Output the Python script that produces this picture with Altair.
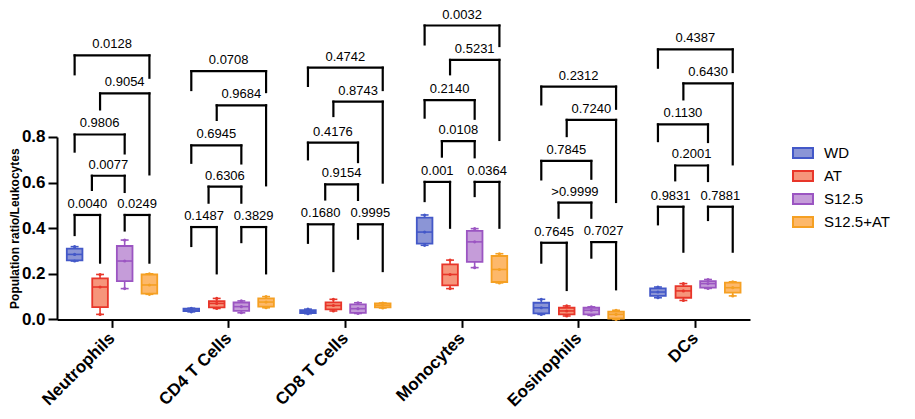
import json
import altair as alt
import pandas as pd

# ---------------- data ----------------
categories = ["Neutrophils", "CD4 T Cells", "CD8 T Cells", "Monocytes", "Eosinophils", "DCs"]
groups = ["WD", "AT", "S12.5", "S12.5+AT"]

# box statistics per group, one value per category
box_min = {
    "WD":       [0.256, 0.033, 0.025, 0.325, 0.022, 0.095],
    "AT":       [0.022, 0.048, 0.037, 0.135, 0.015, 0.083],
    "S12.5":    [0.135, 0.029, 0.026, 0.227, 0.018, 0.136],
    "S12.5+AT": [0.110, 0.051, 0.050, 0.160, 0.000, 0.103],
}
box_q1 = {
    "WD":       [0.259, 0.036, 0.028, 0.332, 0.026, 0.103],
    "AT":       [0.054, 0.053, 0.044, 0.149, 0.022, 0.095],
    "S12.5":    [0.168, 0.037, 0.029, 0.252, 0.022, 0.139],
    "S12.5+AT": [0.113, 0.056, 0.053, 0.164, 0.004, 0.117],
}
box_med = {
    "WD":       [0.285, 0.041, 0.035, 0.383, 0.051, 0.120],
    "AT":       [0.142, 0.070, 0.061, 0.197, 0.037, 0.125],
    "S12.5":    [0.256, 0.056, 0.047, 0.340, 0.040, 0.157],
    "S12.5+AT": [0.151, 0.076, 0.062, 0.219, 0.022, 0.139],
}
box_q3 = {
    "WD":       [0.310, 0.047, 0.040, 0.446, 0.073, 0.136],
    "AT":       [0.180, 0.080, 0.075, 0.241, 0.051, 0.146],
    "S12.5":    [0.322, 0.074, 0.066, 0.388, 0.051, 0.168],
    "S12.5+AT": [0.197, 0.092, 0.070, 0.278, 0.034, 0.161],
}
box_max = {
    "WD":       [0.319, 0.049, 0.045, 0.458, 0.088, 0.142],
    "AT":       [0.197, 0.092, 0.088, 0.260, 0.059, 0.157],
    "S12.5":    [0.348, 0.081, 0.073, 0.398, 0.055, 0.175],
    "S12.5+AT": [0.200, 0.100, 0.072, 0.288, 0.040, 0.165],
}

# comparison brackets (same six comparisons in every category)
bracket_pairs = [("WD", "AT"), ("S12.5", "S12.5+AT"), ("mid", "S12.5"),
                 ("WD", "S12.5"), ("AT", "S12.5+AT"), ("WD", "S12.5+AT")]
p_labels = [
    ["0.0040", "0.0249", "0.0077", "0.9806", "0.9054", "0.0128"],
    ["0.1487", "0.3829", "0.6306", "0.6945", "0.9684", "0.0708"],
    ["0.1680", "0.9995", "0.9154", "0.4176", "0.8743", "0.4742"],
    ["0.001", "0.0364", "0.0108", "0.2140", "0.5231", "0.0032"],
    ["0.7645", "0.7027", ">0.9999", "0.7845", "0.7240", "0.2312"],
    ["0.9831", "0.7881", "0.2001", "0.1130", "0.6430", "0.4387"],
]
bracket_top = [
    [0.458, 0.458, 0.630, 0.811, 0.991, 1.158],
    [0.405, 0.405, 0.582, 0.763, 0.939, 1.089],
    [0.417, 0.417, 0.592, 0.775, 0.955, 1.104],
    [0.603, 0.603, 0.782, 0.962, 1.138, 1.289],
    [0.336, 0.339, 0.512, 0.695, 0.875, 1.021],
    [0.494, 0.494, 0.675, 0.855, 1.035, 1.184],
]
bracket_left_end = [
    [0.370, 0.390, 0.568, 0.736, 0.921, 1.075],
    [0.322, 0.339, 0.512, 0.687, 0.875, 1.006],
    [0.336, 0.354, 0.526, 0.702, 0.892, 1.024],
    [0.519, 0.541, 0.714, 0.885, 1.075, 1.206],
    [0.249, 0.271, 0.446, 0.614, 0.804, 0.943],
    [0.417, 0.436, 0.610, 0.782, 0.965, 1.104],
]
bracket_right_end = [
    [0.249, 0.249, 0.559, 0.728, 0.636, 1.060],
    [0.202, 0.202, 0.512, 0.684, 0.588, 0.997],
    [0.212, 0.212, 0.524, 0.690, 0.600, 1.006],
    [0.402, 0.402, 0.711, 0.880, 0.787, 1.199],
    [0.129, 0.132, 0.446, 0.617, 0.515, 0.924],
    [0.297, 0.297, 0.607, 0.778, 0.680, 1.085],
]

# ---------------- layout / style ----------------
slot_offset = {"WD": -0.318, "AT": -0.100, "S12.5": 0.111, "S12.5+AT": 0.323, "mid": -0.170}
box_half = 0.067
cap_half = 0.034
fill_colors = ["#8B95D6", "#F6957B", "#C59CD9", "#FDB86A"]
stroke_colors = ["#4358C8", "#E8362A", "#9B55C2", "#F5A023"]
FONT = "Liberation Sans"

# ---------------- tables ----------------
box_rows, seg_rows, dot_rows = [], [], []
for ci, cat in enumerate(categories):
    for g in groups:
        pos = ci + slot_offset[g]
        mn, q1, md, q3, mx = (box_min[g][ci], box_q1[g][ci], box_med[g][ci],
                              box_q3[g][ci], box_max[g][ci])
        box_rows.append(dict(group=g, lo=pos - box_half, hi=pos + box_half, q1=q1, q3=q3))
        for (xa, ya, xb, yb) in [(pos, mn, pos, q1), (pos, q3, pos, mx),
                                 (pos - cap_half, mn, pos + cap_half, mn),
                                 (pos - cap_half, mx, pos + cap_half, mx),
                                 (pos - box_half, md, pos + box_half, md)]:
            seg_rows.append(dict(group=g, xa=xa, ya=ya, xb=xb, yb=yb))
        for v in (mn, md, mx):
            dot_rows.append(dict(group=g, x=pos, y=v))

br_rows, lab_rows = [], []
for ci, cat in enumerate(categories):
    for k, (a, b) in enumerate(bracket_pairs):
        xl, xr = ci + slot_offset[a], ci + slot_offset[b]
        h = bracket_top[ci][k]
        br_rows.append(dict(xa=xl, ya=h, xb=xr, yb=h))
        br_rows.append(dict(xa=xl, ya=h, xb=xl, yb=bracket_left_end[ci][k]))
        br_rows.append(dict(xa=xr, ya=h, xb=xr, yb=bracket_right_end[ci][k]))
        lab_rows.append(dict(x=(xl + xr) / 2, y=h, label=p_labels[ci][k]))

box_df = pd.DataFrame(box_rows)
seg_df = pd.DataFrame(seg_rows)
dot_df = pd.DataFrame(dot_rows)
br_df = pd.DataFrame(br_rows)
lab_df = pd.DataFrame(lab_rows)

# ---------------- scales / axes ----------------
xscale = alt.Scale(domain=[-0.469, 5.471], nice=False, zero=False)
yscale = alt.Scale(domain=[0, 0.8], nice=False, zero=True)
fill_scale = alt.Scale(domain=groups, range=fill_colors)
stroke_scale = alt.Scale(domain=groups, range=stroke_colors)

label_expr = json.dumps(categories) + "[round(datum.value)]"
xaxis = alt.Axis(values=list(range(len(categories))), labelExpr=label_expr, title=None,
                 labelAngle=-45, labelAlign="right", labelBaseline="middle",
                 labelFontSize=17, labelFontWeight="bold", labelFont=FONT, labelColor="black",
                 labelPadding=8, tickSize=8, tickWidth=2, tickColor="black",
                 domainWidth=2, domainColor="black", grid=False, labelFlush=False,
                 labelOverlap=False)
yaxis = alt.Axis(values=[0, 0.2, 0.4, 0.6, 0.8], format=".1f",
                 title="Population ratio/Leukocytes", titleFontSize=12, titleFontWeight="bold",
                 titleFont=FONT, titleColor="black", titleX=-43, titleBaseline="middle",
                 labelFontSize=17, labelFontWeight="bold", labelFont=FONT, labelColor="black",
                 labelPadding=3, tickSize=9, tickWidth=2, tickColor="black",
                 domainWidth=2, domainColor="black", grid=False)

legend = alt.Legend(title=None, orient="none", legendX=735, legendY=5,
                    symbolType="M-1,-0.5H1V0.5H-1Z", symbolSize=400, symbolStrokeWidth=2,
                    labelFontSize=15, labelFont=FONT, labelColor="black", labelOffset=10,
                    rowPadding=3, padding=0)

boxes = alt.Chart(box_df).mark_rect(strokeWidth=1.8).encode(
    x=alt.X("lo:Q", scale=xscale, axis=xaxis),
    x2="hi:Q",
    y=alt.Y("q1:Q", scale=yscale, axis=yaxis),
    y2="q3:Q",
    fill=alt.Fill("group:N", scale=fill_scale, legend=legend),
    stroke=alt.Stroke("group:N", scale=stroke_scale, legend=legend),
)

segs = alt.Chart(seg_df).mark_rule(strokeWidth=1.6).encode(
    x=alt.X("xa:Q", scale=xscale), x2="xb:Q",
    y=alt.Y("ya:Q", scale=yscale), y2="yb:Q",
    stroke=alt.Stroke("group:N", scale=stroke_scale, legend=None),
)

dots = alt.Chart(dot_df).mark_circle(size=10, opacity=1).encode(
    x=alt.X("x:Q", scale=xscale),
    y=alt.Y("y:Q", scale=yscale),
    color=alt.Color("group:N", scale=stroke_scale, legend=None),
)

brackets = alt.Chart(br_df).mark_rule(strokeWidth=2.2, color="black", strokeCap="square").encode(
    x=alt.X("xa:Q", scale=xscale), x2="xb:Q",
    y=alt.Y("ya:Q", scale=yscale), y2="yb:Q",
)

labels = alt.Chart(lab_df).mark_text(fontSize=13, font=FONT, color="black",
                                      baseline="alphabetic", dy=-7).encode(
    x=alt.X("x:Q", scale=xscale),
    y=alt.Y("y:Q", scale=yscale),
    text="label:N",
)

chart = alt.layer(boxes, segs, dots, brackets, labels).properties(
    width=693, height=182.4,
    autosize=alt.AutoSizeParams(type="none"),
    padding={"left": 49, "top": 129, "right": 157, "bottom": 92},
    background="white",
).configure_view(stroke=None)

chart.save("out.html", embed_options={"renderer": "svg", "actions": False})
